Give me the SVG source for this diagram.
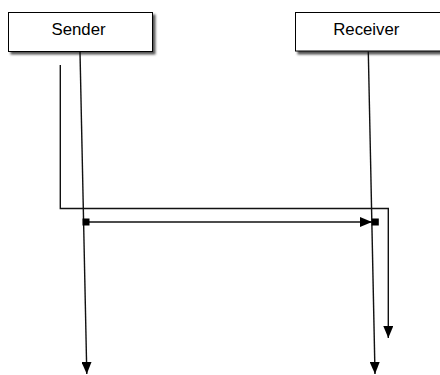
<svg xmlns="http://www.w3.org/2000/svg" width="440" height="375" viewBox="0 0 440 375">
  <style>
    .box { fill: #ffffff; stroke: #000000; stroke-width: 1; }
    .shadow { fill: #555555; filter: url(#soft); }
    .label { font-family: "Liberation Sans", Arial, sans-serif; font-size: 16.8px; fill: #000000; text-anchor: middle; }
    .line { fill: none; stroke: #111111; stroke-width: 1.4; }
  </style>
  <defs>
    <filter id="soft" x="-10%" y="-20%" width="130%" height="160%">
      <feGaussianBlur stdDeviation="1.2"/>
    </filter>
    <marker id="arrow" markerUnits="userSpaceOnUse" markerWidth="12" markerHeight="10" refX="12" refY="5" orient="auto">
      <path d="M0,0 L12,5 L0,10 Z" fill="#000000"/>
    </marker>
  </defs>

  <g id="sender">
    <rect class="shadow" x="10.5" y="14.5" width="145" height="40"/>
    <rect class="box" x="8.5" y="12.5" width="144" height="39"/>
    <text class="label" x="78.5" y="34.5">Sender</text>
  </g>

  <g id="receiver">
    <rect class="shadow" x="297.5" y="14.5" width="150" height="40"/>
    <rect class="box" x="295.5" y="12.5" width="150" height="38.5"/>
    <text class="label" x="366.3" y="34.5">Receiver</text>
  </g>

  <g id="connectors">
    <!-- lifelines -->
    <line class="line" x1="80" y1="52" x2="86.8" y2="374" marker-end="url(#arrow)"/>
    <line class="line" x1="368.3" y1="51.5" x2="375" y2="374" marker-end="url(#arrow)"/>
    <!-- activation path -->
    <polyline class="line" points="60.3,65 60.3,208.5 388.3,208.5 388.3,338" marker-end="url(#arrow)"/>
    <!-- message -->
    <line class="line" x1="86" y1="222" x2="372" y2="222" marker-end="url(#arrow)"/>
    <rect x="82.5" y="218.5" width="7" height="7" fill="#000000"/>
    <rect x="371.8" y="218.5" width="7" height="7" fill="#000000"/>
  </g>
</svg>
